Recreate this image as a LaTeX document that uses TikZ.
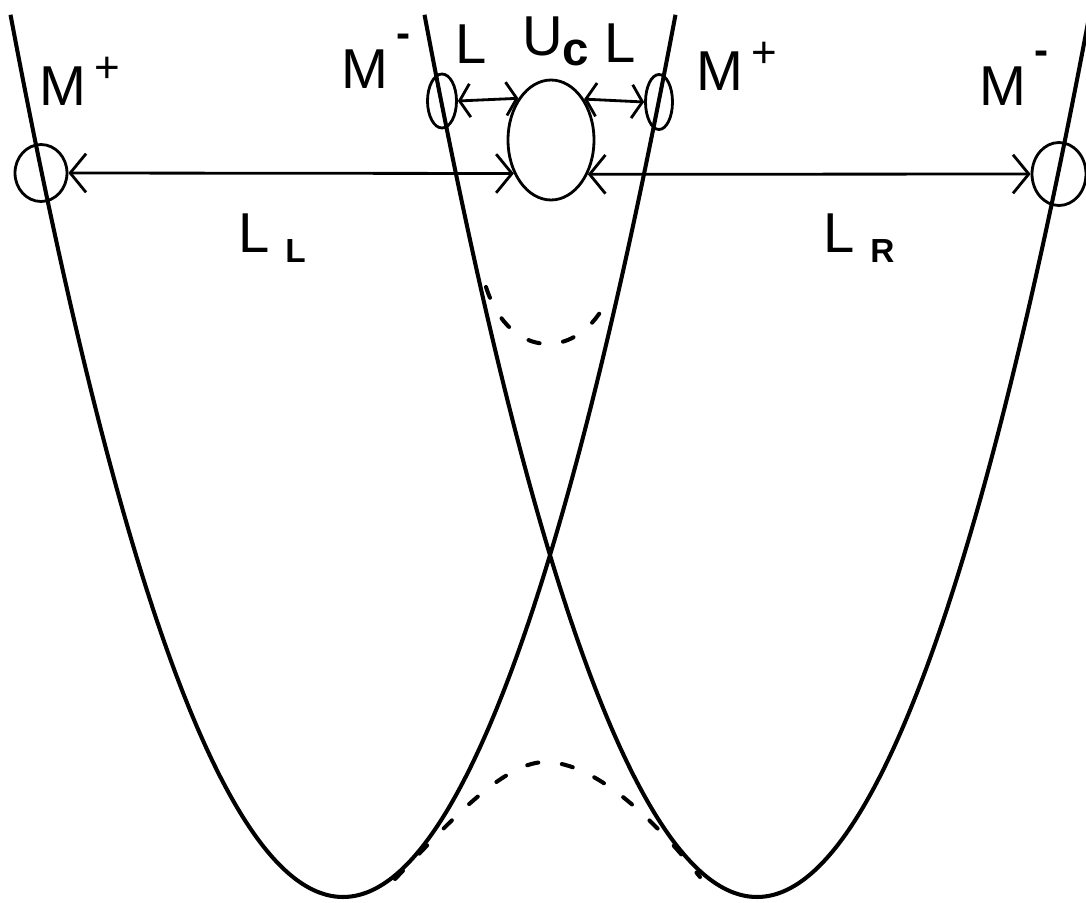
\documentclass[tikz,border=0pt]{standalone}
\usepackage{fontspec}
\setmainfont{Liberation Sans}
\usetikzlibrary{arrows.meta,shapes.geometric}

\newcommand{\plusup}{\hspace{5pt}\raisebox{13pt}{\fontsize{25}{27}\selectfont +}}
\newcommand{\minusup}{\hspace{5pt}\raisebox{23pt}{\fontsize{24}{26}\selectfont\bfseries -}}
\newcommand{\subdn}[2]{\hspace{#1}\raisebox{-5.7pt}{\bfseries #2}}

\begin{document}
\begin{tikzpicture}[x=0.02cm,y=-0.02cm,
  well/.style={line width=2.3pt},
  orb/.style={draw, ellipse, line width=1.6pt, inner sep=0pt},
  dist/.style={line width=1.6pt, {Straight Barb[length=9pt,width=22pt]}-{Straight Barb[length=9pt,width=22pt]}},
  distsmall/.style={line width=1.6pt, {Straight Barb[length=6pt,width=19pt]}-{Straight Barb[length=6pt,width=19pt]}},
  adia/.style={line width=2.3pt, line cap=round, dash pattern=on 6.5pt off 13.5pt},
  lab/.style={inner sep=0pt, anchor=base west, font=\fontsize{32}{36}\selectfont}]
\useasboundingbox (0,0) rectangle (1086,903);

% diabatic wells
\draw[well] plot[domain=10.5:675.5, samples=90, smooth] (\x, {897-79.8*((\x-343)/100)^2});
\draw[well] plot[domain=424.5:1089.5, samples=90, smooth] (\x, {897-79.8*((\x-757)/100)^2});

% adiabatic curves
\draw[adia] (486,287) .. controls (510,362) and (580,360) .. (608,298);
\draw[adia] (395,879) .. controls (438,835) and (500,762) .. (545,762) .. controls (595,762) and (655,820) .. (700,877);

% ions and crossing region
\node[orb, minimum width=1.04cm, minimum height=1.14cm] (lc) at (41,173) {};
\node[orb, minimum width=1.08cm, minimum height=1.26cm] (rc) at (1059,174) {};
\node[orb, minimum width=1.72cm, minimum height=2.4cm] (uc) at (551,140) {};
\node[orb, minimum width=0.58cm, minimum height=1.08cm] (ls) at (442,101) {};
\node[orb, minimum width=0.54cm, minimum height=1.1cm] (rs) at (659,102) {};

\draw[dist] (lc.east) -- (uc.222.5);
\draw[dist] (uc.317.5) -- (rc.west);
\draw[distsmall] (ls.east) -- (uc.128.7);
\draw[distsmall] (uc.51.3) -- (rs.west);

% labels
\node[lab] (mpl) at (39,105) {M\plusup};
\node[lab] (mml) at (341,88) {M\minusup};
\node[lab] (ll) at (455,63) {L};
\node[lab] (ucl) at (522,55) {U\subdn{0pt}{\fontsize{27}{30}\selectfont c}};
\node[lab] (lr) at (604,62) {L};
\node[lab] (mpr) at (696,90) {M\plusup};
\node[lab] (mmr) at (979,105) {M\minusup};
\node[lab] (lL) at (238,252) {L\subdn{9pt}{\fontsize{19}{20}\selectfont L}};
\node[lab] (lR) at (823,252) {L\subdn{9pt}{\fontsize{19}{20}\selectfont R}};
\end{tikzpicture}
\end{document}
